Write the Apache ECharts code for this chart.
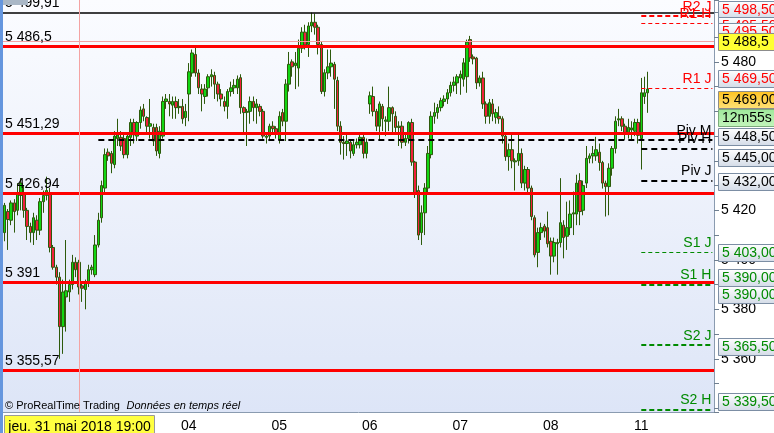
<!DOCTYPE html>
<html><head><meta charset="utf-8">
<script src="https://cdn.jsdelivr.net/npm/echarts@6/dist/echarts.min.js"></script>
<style>html,body{margin:0;padding:0;background:#fff;overflow:hidden}#c{width:774px;height:433px}</style>
</head><body><div id="c"></div>
<script>
// ---- DATA ----
const dayLabels = ['31','01','04','05','06','07','08','11'];
// [open, close, low, high] — 30 min candles
const d31 = [[5411,5422,5407.5,5423],[5419.5,5416.3,5404,5420.5],[5416,5423,5414,5424],[5423,5419.5,5411,5424.5],[5420,5427,5418,5431],[5426,5431,5420,5433],[5427,5420,5417,5430],[5420,5413.5,5408,5421],[5413.5,5411,5407,5415],[5411,5417,5406,5419],[5416,5412,5408,5418],[5412,5423.5,5410,5425],[5423.5,5426,5419,5428],[5426,5428,5424,5433.6],[5427,5405,5403,5429],[5405,5397,5396,5406],[5397,5393,5390,5398],[5393,5373,5360,5395],[5373,5387,5362,5392],[5385,5387.5,5371,5408],[5387,5390,5383,5392],[5390,5399,5388,5402],[5399,5396,5393,5401],[5399,5389,5386,5400],[5389.5,5388.5,5383,5391],[5388,5391,5380,5392],[5391,5396,5389,5398],[5396,5397,5394,5398],[5394,5406,5393,5410]];
const d01 = [[5406,5416,5405,5419],[5417,5430,5415,5432],[5429,5442.5,5427,5445],[5443.5,5442,5440,5445],[5443,5439,5435,5444],[5438.5,5450,5437,5452],[5449,5450.5,5446,5457],[5449.5,5446,5444,5452],[5449,5442.5,5441,5451],[5442.5,5450,5441,5451],[5449.5,5455.5,5446,5457],[5455.5,5450.5,5447,5457],[5450,5455.5,5448,5456],[5455.5,5460.5,5453,5462],[5461,5458,5456,5463],[5457.5,5454,5451,5458],[5454,5455,5449,5465],[5453.5,5448,5446,5455],[5453.5,5444,5442,5455],[5443,5452,5441,5454],[5450,5464,5449,5466],[5464,5465,5461,5467],[5464,5463,5458,5467],[5462.5,5464,5457,5466],[5464,5461.5,5457,5466],[5461.5,5462,5459,5465],[5462,5457,5455,5465],[5457.5,5460,5454,5463]];
const d04 = [[5467,5476,5456,5479.5],[5475.5,5483.6,5474,5485],[5483,5475.5,5474,5486],[5475.5,5469.5,5467,5477],[5469,5467,5460,5471],[5466,5469,5463,5471],[5469.5,5474,5466,5475],[5474,5474.8,5470,5477],[5474.5,5471,5465,5476],[5471,5467,5464,5472],[5467,5465,5462,5469],[5464,5462,5460,5466],[5462,5468,5457,5469],[5468,5469.5,5466,5472],[5469.5,5470.5,5467,5473],[5469.5,5473,5467,5474.5],[5473.6,5461.5,5459,5475],[5461.5,5459.5,5451.4,5462],[5459.6,5460,5446,5461],[5460,5464,5455,5466],[5464,5461.5,5456,5466],[5461.5,5463,5455,5465],[5462,5460,5458,5463],[5460,5450,5449,5461],[5449.5,5450,5447,5451],[5450,5454,5448,5455],[5454,5453,5451,5456],[5453,5451.4,5449,5454]];
const d05 = [[5448.5,5458,5447,5460],[5459.5,5456,5454,5461],[5456,5471,5448,5473],[5471,5479,5468,5484],[5480,5478,5474,5481],[5478.5,5479.5,5469,5484],[5477.5,5485.5,5470,5489],[5485.5,5492,5483.6,5494],[5492,5486.8,5485,5495],[5487,5494.5,5482,5496],[5494.5,5496,5492,5499.9],[5496,5494,5491,5499.5],[5494,5487,5483,5495],[5487,5468,5467,5488],[5468,5475.6,5466,5477],[5475.5,5478,5473,5485],[5478,5479.5,5474,5485],[5479,5473,5461,5480],[5472.5,5454,5452,5474],[5454,5447.5,5442.5,5456],[5447.5,5447,5440.5,5450],[5447,5448,5442,5451],[5447.5,5444,5441,5448.5],[5443,5446.5,5442,5448],[5446.5,5447.5,5445,5449],[5446.5,5449.5,5445,5451],[5449.5,5443,5441,5451],[5443,5447.5,5441,5449]];
const d06 = [[5463,5466.3,5459,5468],[5466,5460,5458,5470],[5460,5454,5452,5461],[5454,5463,5448.5,5464],[5462,5457,5452,5463],[5456,5456.5,5450,5458],[5456,5461.5,5452,5470],[5461.5,5459,5451,5462],[5458,5453.5,5451,5460],[5453.5,5454,5446,5456],[5454,5447.5,5445,5456],[5447.5,5449,5446,5451],[5449,5455.5,5447,5456],[5455.5,5439.5,5438,5457],[5439.5,5427,5425,5440],[5428,5410,5408,5430],[5411,5419,5406,5422],[5419,5429,5410,5431],[5429,5443,5427,5446],[5442.5,5458,5441,5460],[5458,5459.5,5455,5463.5],[5459.5,5461.5,5457,5463],[5461.5,5464.3,5460,5465.5],[5464,5465,5462,5466.5],[5465,5467.5,5463,5469],[5467.5,5470.5,5466,5472],[5470.5,5471.8,5468,5474],[5471.5,5474,5467,5475]];
const d07 = [[5473.5,5475,5466.7,5476.5],[5473,5479.6,5470,5481.5],[5474,5488,5467.5,5489],[5489,5481.6,5480,5490.5],[5482,5481.2,5479,5483],[5481.5,5471.5,5469,5482],[5471.5,5473.5,5470,5474.5],[5473.5,5463,5461,5476],[5463,5458,5455,5464],[5458,5463.5,5455,5465],[5463,5459,5456,5465],[5457.6,5459.5,5455,5461],[5458,5457,5455,5462],[5457,5450,5447,5458],[5450,5441.7,5440,5451],[5441.7,5444.5,5436,5447],[5444.5,5440,5437,5451],[5439.6,5440,5428,5441],[5440,5443,5438,5450.6],[5443,5431,5429,5445],[5431,5436.5,5428,5438],[5436.5,5429,5427,5437.5],[5429,5417.5,5416,5430],[5417,5402,5401,5418],[5403,5411,5397,5413],[5411,5413,5408,5415],[5413.6,5411.6,5409,5414.5],[5413,5406.5,5405,5419.5]];
const d08 = [[5407.5,5401.5,5394,5409],[5401.5,5407,5399,5409],[5406.5,5407,5394,5408.5],[5407,5415,5405,5433],[5414,5409,5400.6,5416],[5409.5,5413,5404,5423.5],[5413,5418.5,5410,5424],[5418.5,5419,5410,5427.6],[5418.5,5431,5414,5434.4],[5432,5419.5,5414,5435],[5420,5430,5418,5432],[5431,5441,5429,5446],[5441,5442,5439,5443],[5442,5443,5439,5446],[5442,5444.5,5440,5449.7],[5443.5,5439.3,5436,5447],[5439.3,5431,5428.8,5440],[5431,5429.6,5417.5,5432],[5429.6,5437,5418,5439],[5437,5445,5434,5446],[5445,5456,5443,5458],[5456.5,5457,5454,5461],[5457,5454,5452,5458],[5454,5451.5,5448.5,5455],[5451.5,5453.5,5449,5457],[5452.5,5453.3,5448,5456],[5452,5455.5,5450,5457],[5455.5,5450.3,5447,5457]];
const d11 = [[5449,5467.5,5436.5,5473.5],[5466,5467.5,5463,5474],[5467.5,5469,5459.4,5476]];

const levelValues = [5499.91, 5486.5, 5451.29, 5426.94, 5391, 5355.57];
const levelLabels = ['5 499,91', '5 486,5', '5 451,29', '5 426,94', '5 391', '5 355,57'];
const pivotNames  = ['R2 J', 'R1 H', 'R1 J', 'Piv M', 'Piv H', 'Piv J', 'S1 J', 'S1 H', 'S2 J', 'S2 H'];
const pivotValues = [5498.5, 5495.5, 5469.5, 5448.5, 5445, 5432, 5403, 5390, 5365.5, 5339.5];
const tagValues = [5498.5, 5495.5, 5495.5, 5469.5, 5448.5, 5445, 5432, 5403, 5390, 5390, 5365.5, 5339.5];
const crossPrice = 5488.5;
const crossTimeLabel = 'jeu. 31 mai 2018 19:00';
const crossCat = '31 19:00';
const countdown = '12m55s';
const yTickLabels = [5360, 5380, 5400, 5420, 5440, 5460, 5480];

// ---- build categories ----
function slots(from, to) { const o = []; for (let t = from; t <= to; t += 0.5) { const h = Math.floor(t); o.push((h < 10 ? '0' : '') + h + ':' + (t % 1 ? '30' : '00')); } return o; }
const cats = []; const dayStart = {};
dayLabels.forEach((d, i) => {
  const s = i === 0 ? slots(7.5, 21.5) : (i === dayLabels.length - 1 ? slots(8, 19) : slots(8, 21.5));
  s.forEach(t => { if (t === '08:00') dayStart[cats.length] = d; cats.push(d + ' ' + t); });
});
const candles = [].concat(d31, d01, d04, d05, d06, d07, d08, d11);
const lastClose = candles[candles.length - 1][1];
const labelIdx = Object.keys(dayStart).map(Number).filter(i => dayStart[i] !== '31');
const monthStart = cats[labelIdx[0]];
const lastDayStart = cats[labelIdx[labelIdx.length - 1]];
const lastCat = cats[cats.length - 1];

function fmt(v, d) { const s = v.toFixed(d).split('.'); const ip = s[0].replace(/\B(?=(\d{3})+(?!\d))/g, ' '); return s.length > 1 ? ip + ',' + s[1] : ip; }

// ---- styles ----
const FONT = '"Liberation Sans", Arial, sans-serif';
const RED = '#ff0000', GREEN = '#008a00';
const pivotStyle = {
  'R2 J': {c: RED, w: 2, dash: [5, 3]}, 'R1 H': {c: RED, w: 1, dash: [4, 3]}, 'R1 J': {c: RED, w: 1, dash: [4, 3]},
  'Piv M': {c: '#000', w: 2, dash: [6, 4]}, 'Piv H': {c: '#000', w: 2, dash: [6, 4]}, 'Piv J': {c: '#000', w: 2, dash: [6, 4]},
  'S1 J': {c: GREEN, w: 1, dash: [4, 3]}, 'S1 H': {c: GREEN, w: 2, dash: [5, 3]}, 'S2 J': {c: GREEN, w: 2, dash: [5, 3]}, 'S2 H': {c: GREEN, w: 2, dash: [5, 3]}
};
const tagColors = [RED, RED, RED, RED, '#000', '#000', '#000', GREEN, GREEN, GREEN, GREEN, GREEN];
const tagNudge = [-7, 1.5, 8, -9, -3, 9, 1, 0, -7, 10, 1, -8];

const lineData = [];
levelValues.forEach((v, i) => lineData.push({
  yAxis: v,
  lineStyle: i === 0 ? {color: '#000', width: 1.5, type: 'solid'} : {color: RED, width: 3, type: 'solid'},
  label: {show: true, formatter: levelLabels[i], position: 'insideStartTop', distance: [2, 2], color: '#000', fontSize: 14, fontFamily: FONT}
}));
lineData.push({yAxis: crossPrice, lineStyle: {color: '#f4a3a3', width: 1, type: 'solid'}, label: {show: false}});
lineData.push({xAxis: crossCat, lineStyle: {color: '#f4a3a3', width: 1, type: 'solid'}, label: {show: false}});
pivotNames.forEach((n, i) => {
  const st = pivotStyle[n];
  lineData.push([
    {coord: [n === 'Piv M' ? monthStart : lastDayStart, pivotValues[i]], lineStyle: {color: st.c, width: st.w, type: st.dash},
     label: {show: true, formatter: n, position: 'insideEndTop', distance: [1, 2], color: st.c, fontSize: 14, fontFamily: FONT}},
    {coord: [lastCat, pivotValues[i]]}
  ]);
});

const chart = echarts.init(document.getElementById('c'), null, {renderer: 'canvas'});
const option = {
  animation: false,
  backgroundColor: '#ffffff',
  grid: {left: 3, right: 60, top: 0, bottom: 20, show: true, borderWidth: 0,
    backgroundColor: {type: 'linear', x: 0, y: 0, x2: 0, y2: 1, colorStops: [{offset: 0, color: '#fbfcff'}, {offset: 1, color: '#dde5f7'}]}},
  xAxis: {
    type: 'category', data: cats, boundaryGap: true,
    axisLine: {lineStyle: {color: '#8a9bb0', width: 1}},
    axisTick: {interval: (i) => labelIdx.includes(i), alignWithLabel: true, length: 5, lineStyle: {color: '#6f7f90'}},
    axisLabel: {interval: (i) => labelIdx.includes(i), formatter: (v) => v.split(' ')[0], color: '#000', fontSize: 14, fontFamily: FONT, margin: 7},
    splitLine: {show: false}
  },
  yAxis: {
    type: 'value', position: 'right', min: 5338.5, max: 5505, splitNumber: 17, minInterval: 10, maxInterval: 10,
    axisLine: {show: true, lineStyle: {color: '#8a9bb0', width: 1}},
    axisTick: {show: true, length: 5, lineStyle: {color: '#6f7f90'}},
    axisLabel: {color: '#000', fontSize: 14, fontFamily: FONT, margin: 7,
      formatter: (v) => yTickLabels.includes(Math.round(v)) ? fmt(Math.round(v), 0) : ''},
    splitLine: {show: false}
  },
  series: [{
    type: 'candlestick', data: candles, barWidth: 3,
    itemStyle: {color: '#12d612', color0: '#f0203c', borderColor: '#2d5a0c', borderColor0: '#2d5a0c', borderWidth: 1},
    markLine: {silent: true, symbol: ['none', 'none'], animation: false, data: lineData}
  }]
};
chart.setOption(option);

// ---- right side price tags & other text ----
const g = [];
const ZL = 1;
g.push({type: 'rect', zlevel: ZL, z: 100, shape: {x: 0, y: 0, width: 3, height: 433}, style: {fill: '#6596de'}});
g.push({type: 'rect', zlevel: ZL, z: 100, shape: {x: 3, y: 0, width: 25, height: 5}, style: {fill: '#a9b7c6'}});
let zc = 100;
function tag(y, text, color, fill, stroke) {
  zc += 2;
  const top = Math.round(y - 8.5) + 0.5;
  g.push({type: 'rect', zlevel: ZL, z: zc, shape: {x: 718.5, y: top, width: 70, height: 17}, style: {fill: fill, stroke: stroke || '#7c8ea4', lineWidth: 1}});
  g.push({type: 'text', zlevel: ZL, z: zc + 1, x: 722, y: top + 9, style: {text: text, fill: color, font: '14px ' + FONT, verticalAlign: 'middle', textVerticalAlign: 'middle'}});
}
const grad = () => new echarts.graphic.LinearGradient(0, 0, 0, 1, [{offset: 0, color: '#ffffff'}, {offset: 1, color: '#d3dbe7'}]);
const py = (v) => chart.convertToPixel({yAxisIndex: 0}, v);
for (let i = 0; i < 4; i++) {
  if (i === 3) tag(py(crossPrice) + 1, fmt(crossPrice, 1), '#000', '#ffff33', '#8c8c8c');
  tag(py(tagValues[i]) + tagNudge[i], fmt(tagValues[i], 2), tagColors[i], grad());
}
tag(py(lastClose) + 10, fmt(lastClose, 2), '#000', new echarts.graphic.LinearGradient(0, 0, 0, 1, [{offset: 0, color: '#ffc21e'}, {offset: 1, color: '#ffe27a'}]), '#8c8c8c');
tag(py(lastClose) + 28, countdown, '#000', new echarts.graphic.LinearGradient(0, 0, 0, 1, [{offset: 0, color: '#9ee89a'}, {offset: 1, color: '#c4f5bc'}]), '#7cab7c');
for (let i = 4; i < tagValues.length; i++) tag(py(tagValues[i]) + tagNudge[i], fmt(tagValues[i], 2), tagColors[i], grad());

const cx = chart.convertToPixel({xAxisIndex: 0}, crossCat);
const bx = Math.round(cx - 75) + 0.5;
g.push({type: 'rect', zlevel: ZL, z: 200, shape: {x: bx, y: 415.5, width: 150, height: 20}, style: {fill: '#ffff40', stroke: '#9a9a9a', lineWidth: 1}});
g.push({type: 'text', zlevel: ZL, z: 201, x: bx + 75, y: 427, style: {text: crossTimeLabel, fill: '#000', font: '14px ' + FONT, align: 'center', textAlign: 'center', verticalAlign: 'middle', textVerticalAlign: 'middle'}});
g.push({type: 'text', zlevel: ZL, z: 201, x: 5, y: 406, style: {
  text: '{a|© ProRealTime Trading}  {b|Données en temps réel}',
  rich: {a: {font: '11px ' + FONT, fill: '#000', color: '#000'}, b: {font: 'italic 11px ' + FONT, fill: '#000', color: '#000'}},
  verticalAlign: 'middle', textVerticalAlign: 'middle'}});
chart.setOption({graphic: g});
</script>
</body></html>
